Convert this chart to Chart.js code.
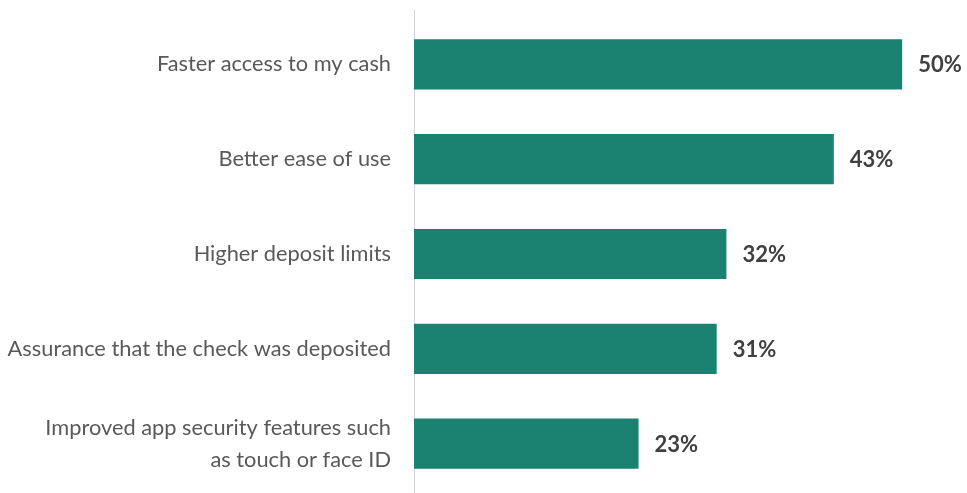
<!DOCTYPE html>
<html>
<head>
<meta charset="utf-8">
<script src="https://cdn.jsdelivr.net/npm/chart.js@4/dist/chart.umd.min.js"></script>
<style>
  body { margin: 0; background: #fff; }
  #wrap { width: 967px; height: 493px; }
</style>
</head>
<body>
<div id="wrap"><canvas id="chart" width="967" height="493"></canvas></div>
<script>
// reasons people would switch, share of respondents (%)
const reasons = [
  "Faster access to my cash",
  "Better ease of use",
  "Higher deposit limits",
  "Assurance that the check was deposited",
  ["Improved app security features such", "as touch or face ID"],
];
const shares = [50, 43, 32, 31, 23];

// value labels at the end of each bar
const valueLabels = {
  id: "valueLabels",
  afterDatasetsDraw(chart) {
    const ctx = chart.ctx;
    const meta = chart.getDatasetMeta(0);
    ctx.save();
    ctx.font = "bold 22px Lato";
    ctx.fillStyle = "#404040";
    ctx.textBaseline = "middle";
    meta.data.forEach((bar, i) => {
      ctx.fillText(shares[i] + "%", bar.x + 16, bar.y + 1);
    });
    ctx.restore();
  },
};

// thin vertical baseline running the full height
const baseline = {
  id: "baseline",
  beforeDatasetsDraw(chart) {
    const ctx = chart.ctx;
    const x = Math.round(chart.chartArea.left) + 0.5;
    ctx.save();
    ctx.strokeStyle = "#d4d4d4";
    ctx.lineWidth = 1;
    ctx.beginPath();
    ctx.moveTo(x, 10);
    ctx.lineTo(x, chart.height);
    ctx.stroke();
    ctx.restore();
  },
};

const ctx = document.getElementById("chart");
new Chart(ctx, {
  type: "bar",
  data: {
    labels: reasons,
    datasets: [
      {
        data: shares,
        backgroundColor: "rgb(27, 130, 114)",
        categoryPercentage: 1,
        barPercentage: 0.53,
      },
    ],
  },
  plugins: [valueLabels, baseline],
  options: {
    indexAxis: "y",
    responsive: false,
    animation: false,
    layout: { padding: { top: 17, bottom: 2, right: 16, left: 0 } },
    plugins: { legend: { display: false }, tooltip: { enabled: false } },
    scales: {
      x: { display: false, min: 0, max: 55 },
      y: {
        afterFit(scale) {
          scale.width = 414;
          scale.paddingTop = 0;
          scale.paddingBottom = 0;
        },
        grid: { display: false },
        border: { display: false },
        ticks: {
          padding: 15,
          color: "#595959",
          font: { family: "Lato", size: 21.8, lineHeight: 1.48 },
        },
      },
    },
  },
});
</script>
</body>
</html>
